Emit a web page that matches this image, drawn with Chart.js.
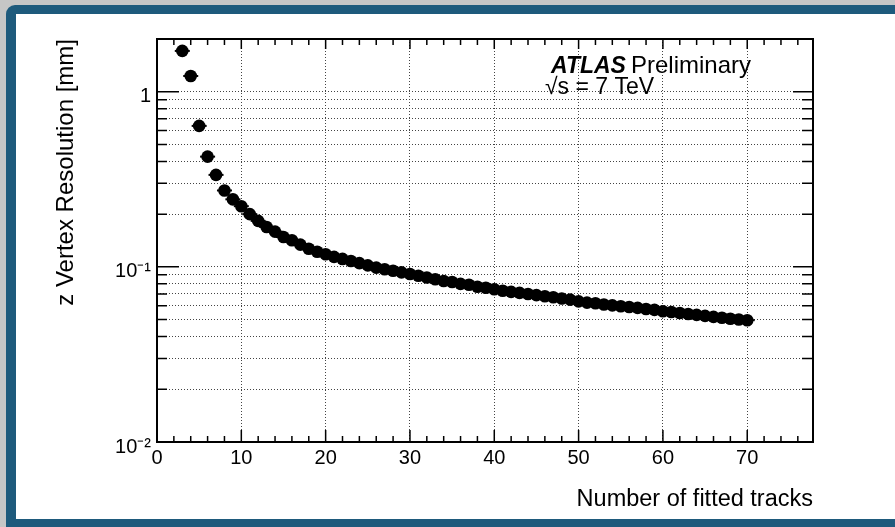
<!DOCTYPE html>
<html>
<head>
<meta charset="utf-8">
<script src="https://cdn.jsdelivr.net/npm/chart.js@4"></script>
<style>
  html, body { margin: 0; padding: 0; }
  body { width: 895px; height: 527px; background: #c6c6c6; position: relative; overflow: hidden; }
  #frame { position: absolute; left: 6px; top: 5px; width: 900px; height: 540px; background: #1e5a7c; border-radius: 9px 0 0 0; }
  #panel { position: absolute; left: 16px; top: 14px; width: 890px; height: 505px; background: #fff; }
  #zres { position: absolute; left: 0; top: 0; }
</style>
</head>
<body>
<div id="frame"></div>
<div id="panel"></div>
<canvas id="zres" width="895" height="527"></canvas>
<script>
// number of fitted tracks per vertex
const tracks = [3, 4, 5, 6, 7, 8, 9, 10, 11, 12, 13, 14, 15, 16, 17, 18, 19, 20,
    21, 22, 23, 24, 25, 26, 27, 28, 29, 30, 31, 32, 33, 34, 35, 36, 37, 38, 39, 40,
    41, 42, 43, 44, 45, 46, 47, 48, 49, 50, 51, 52, 53, 54, 55, 56, 57, 58, 59, 60,
    61, 62, 63, 64, 65, 66, 67, 68, 69, 70];
// z vertex resolution [mm]
const resolution = [1.71, 1.23, 0.638, 0.426, 0.335, 0.273, 0.243, 0.222, 0.200, 0.183,
    0.169, 0.159, 0.148, 0.142, 0.134, 0.127, 0.122, 0.118,
    0.114, 0.111, 0.108, 0.105, 0.102, 0.099, 0.097, 0.095, 0.093, 0.091,
    0.089, 0.087, 0.085, 0.083, 0.082, 0.080, 0.079, 0.077, 0.076, 0.0745,
    0.073, 0.072, 0.071, 0.070, 0.069, 0.068, 0.067, 0.066, 0.065, 0.0635,
    0.0625, 0.062, 0.061, 0.0603, 0.0596, 0.059, 0.0583, 0.0575, 0.0568, 0.0558,
    0.0552, 0.0545, 0.0538, 0.0532, 0.0525, 0.0518, 0.0512, 0.0506, 0.0501, 0.0496];

const xMajorTicks = [0, 10, 20, 30, 40, 50, 60, 70];
const xMinorTicks = [2, 4, 6, 8, 12, 14, 16, 18, 22, 24, 26, 28, 32, 34, 36, 38, 42, 44, 46, 48,
    52, 54, 56, 58, 62, 64, 66, 68, 72, 74, 76];
const yTicks = [0.01, 0.02, 0.03, 0.04, 0.05, 0.06, 0.07, 0.08, 0.09,
    0.1, 0.2, 0.3, 0.4, 0.5, 0.6, 0.7, 0.8, 0.9, 1, 2];
const yLabelValues = [0.01, 0.1, 1];
const yLabelTexts = ['10\u207B\u00B2', '10\u207B\u00B9', '1'];

const FONT = "'Liberation Sans', Arial, Helvetica, sans-serif";

const points = tracks.map(function(t, i){ return {x: t, y: resolution[i]}; });

// horizontal error bars under the markers
const errorBars = {
    id: 'errorBars',
    beforeDatasetsDraw(chart){
        const ctx = chart.ctx, xs = chart.scales.x, ys = chart.scales.y;
        ctx.save();
        ctx.strokeStyle = '#000';
        ctx.lineWidth = 2;
        points.forEach(function(p){
            const px = xs.getPixelForValue(p.x), py = ys.getPixelForValue(p.y);
            ctx.beginPath();
            ctx.moveTo(px - 7.5, py);
            ctx.lineTo(px + 7.5, py);
            ctx.stroke();
        });
        ctx.restore();
    }
};

// ROOT style frame with inward ticks and the ATLAS label
const rootFrame = {
    id: 'rootFrame',
    afterDraw(chart){
        const ctx = chart.ctx, a = chart.chartArea, xs = chart.scales.x, ys = chart.scales.y;
        ctx.save();
        ctx.strokeStyle = '#000';
        ctx.lineWidth = 1.5;
        ctx.beginPath();
        xMajorTicks.forEach(function(v){
            const px = xs.getPixelForValue(v);
            ctx.moveTo(px, a.bottom); ctx.lineTo(px, a.bottom - 12);
            ctx.moveTo(px, a.top); ctx.lineTo(px, a.top + 10);
        });
        xMinorTicks.forEach(function(v){
            const px = xs.getPixelForValue(v);
            ctx.moveTo(px, a.bottom); ctx.lineTo(px, a.bottom - 6);
            ctx.moveTo(px, a.top); ctx.lineTo(px, a.top + 6);
        });
        yTicks.forEach(function(v){
            const py = ys.getPixelForValue(v);
            const major = yLabelValues.indexOf(v) >= 0;
            ctx.moveTo(a.left, py); ctx.lineTo(a.left + (major ? 22 : 10), py);
            ctx.moveTo(a.right, py); ctx.lineTo(a.right - (major ? 20 : 11), py);
        });
        ctx.stroke();

        ctx.lineWidth = 2;
        ctx.strokeRect(a.left, a.top, a.right - a.left, a.bottom - a.top);

        ctx.fillStyle = '#000';
        ctx.textBaseline = 'alphabetic';
        ctx.textAlign = 'left';
        ctx.font = 'italic bold 23px ' + FONT;
        ctx.fillText('ATLAS', 551, 73);
        ctx.font = '24px ' + FONT;
        ctx.fillText('Preliminary', 631, 73);
        ctx.font = '23px ' + FONT;
        ctx.fillText('\u221As = 7 TeV', 545, 94);
        ctx.restore();
    }
};

const zChart = new Chart('zres', {
    type: 'scatter',
    data: {
        datasets: [{
            label: 'z vertex resolution',
            data: points,
            backgroundColor: '#000',
            borderWidth: 0,
            pointRadius: 6.3,
            pointHoverRadius: 6.3
        }]
    },
    options: {
        responsive: false,
        animation: false,
        layout: { padding: { left: 40, top: 39, right: 82, bottom: 10 } },
        plugins: { legend: { display: false }, tooltip: { enabled: false } },
        scales: {
            x: {
                type: 'linear',
                min: 0,
                max: 77.8,
                afterFit: function(s){ s.height = 75; },
                afterBuildTicks: function(s){ s.ticks = xMajorTicks.map(function(v){ return {value: v}; }); },
                grid: { color: '#444', lineWidth: 1, drawTicks: false },
                border: { display: false, dash: [1, 2] },
                ticks: {
                    autoSkip: false,
                    maxRotation: 0,
                    padding: 4,
                    color: '#000',
                    font: { family: FONT, size: 20 }
                },
                title: {
                    display: true,
                    text: 'Number of fitted tracks',
                    align: 'end',
                    color: '#000',
                    padding: { top: 0, bottom: 3 },
                    font: { family: FONT, size: 23.5 }
                }
            },
            y: {
                type: 'logarithmic',
                min: 0.01,
                max: 2,
                afterFit: function(s){ s.width = 117; },
                afterBuildTicks: function(s){ s.ticks = yTicks.map(function(v){ return {value: v}; }); },
                grid: { color: '#444', lineWidth: 1, drawTicks: false },
                border: { display: false, dash: [1, 2] },
                ticks: {
                    autoSkip: false,
                    padding: 6,
                    labelOffset: 5,
                    color: '#000',
                    font: { family: FONT, size: 20 },
                    callback: function(value){
                        const i = yLabelValues.indexOf(value);
                        return i >= 0 ? yLabelTexts[i] : '';
                    }
                },
                title: {
                    display: true,
                    text: 'z Vertex Resolution [mm]',
                    align: 'end',
                    color: '#000',
                    padding: { top: 12, bottom: 0 },
                    font: { family: FONT, size: 24 }
                }
            }
        }
    },
    plugins: [errorBars, rootFrame]
});
</script>
</body>
</html>
